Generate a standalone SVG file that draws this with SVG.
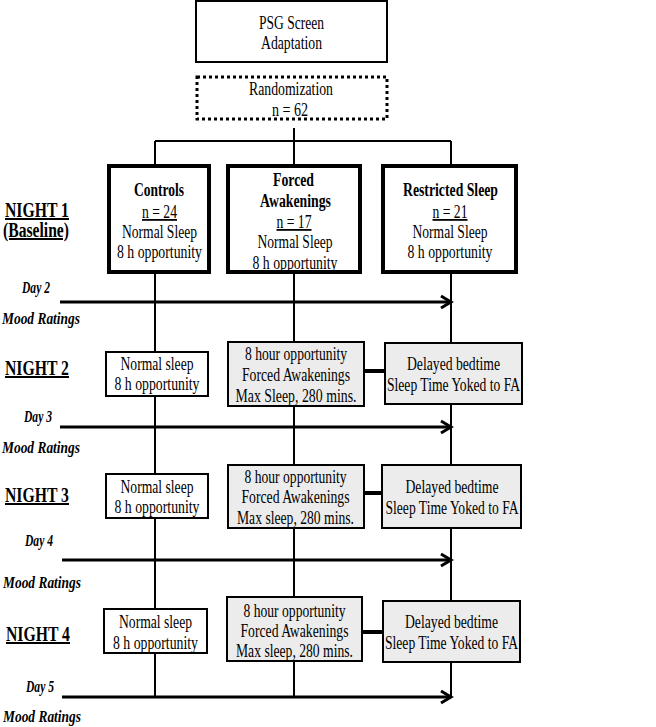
<svg xmlns="http://www.w3.org/2000/svg" width="656" height="727" viewBox="0 0 656 727">
<defs>
<style>
text{font-family:"Liberation Serif","Times New Roman",serif;fill:#000;text-anchor:middle}
.t{font-size:18px}
.b{font-size:18px;font-weight:bold}
.u{text-decoration:underline}
.lab{font-size:20px;font-weight:bold;text-decoration:underline}
.day{font-size:17px;font-weight:bold;font-style:italic}
.box{fill:#fff;stroke:#000;stroke-width:2}
.thick{fill:#fff;stroke:#000;stroke-width:4}
.grey{fill:#ececec;stroke:#000;stroke-width:2}
.ln{stroke:#000;stroke-width:2;fill:none}
.arr{stroke:#000;stroke-width:3;fill:none}
.bar{stroke:#000;stroke-width:4;fill:none}
</style>
<marker id="ah" markerUnits="userSpaceOnUse" markerWidth="16" markerHeight="16" refX="13" refY="8" orient="auto">
<path d="M3,2 L13,8 L3,14" fill="none" stroke="#000" stroke-width="3"/>
</marker>
</defs>
<rect width="656" height="727" fill="#fff"/>

<g id="connectors">
<path class="ln" d="M155,141 H451 M294,128 V141 M155,141 V697 M294,141 V697 M451,141 V697"/>
<path class="arr" marker-end="url(#ah)" d="M60,302 H451"/>
<path class="arr" marker-end="url(#ah)" d="M60,427 H451"/>
<path class="arr" marker-end="url(#ah)" d="M62,560 H451"/>
<path class="arr" marker-end="url(#ah)" d="M62,697 H451"/>
<path class="bar" d="M364,371 H385 M364,493 H381 M362,632 H383"/>
</g>

<g id="psg">
<rect class="box" x="196" y="1" width="191" height="61"/>
<text class="t" x="291.5" y="29" textLength="65" lengthAdjust="spacingAndGlyphs">PSG Screen</text>
<text class="t" x="291.5" y="49" textLength="61" lengthAdjust="spacingAndGlyphs">Adaptation</text>
</g>

<g id="randomization">
<rect x="197" y="77" width="190" height="42" fill="#fff" stroke="#000" stroke-width="3" stroke-dasharray="3 3"/>
<text class="t" x="291" y="95" textLength="84" lengthAdjust="spacingAndGlyphs">Randomization</text>
<text class="t" x="290" y="116" textLength="36" lengthAdjust="spacingAndGlyphs">n = 62</text>
</g>

<g id="n1-controls">
<rect class="thick" x="109" y="166" width="100" height="106"/>
<text class="b" x="159" y="196" textLength="50" lengthAdjust="spacingAndGlyphs">Controls</text>
<text class="t u" x="159.5" y="218" textLength="35" lengthAdjust="spacingAndGlyphs">n = 24</text>
<text class="t" x="159.5" y="238" textLength="75" lengthAdjust="spacingAndGlyphs">Normal Sleep</text>
<text class="t" x="159.5" y="258" textLength="85" lengthAdjust="spacingAndGlyphs">8 h opportunity</text>
</g>

<g id="n1-forced">
<rect class="thick" x="228" y="166" width="132" height="106"/>
<text class="b" x="293.5" y="186" textLength="41" lengthAdjust="spacingAndGlyphs">Forced</text>
<text class="b" x="295.5" y="207" textLength="71" lengthAdjust="spacingAndGlyphs">Awakenings</text>
<text class="t u" x="294" y="228" textLength="35" lengthAdjust="spacingAndGlyphs">n = 17</text>
<text class="t" x="295" y="248" textLength="75" lengthAdjust="spacingAndGlyphs">Normal Sleep</text>
<text class="t" x="295" y="269" textLength="85" lengthAdjust="spacingAndGlyphs">8 h opportunity</text>
</g>

<g id="n1-restricted">
<rect class="thick" x="383" y="166" width="133" height="106"/>
<text class="b" x="450.5" y="196" textLength="95" lengthAdjust="spacingAndGlyphs">Restricted Sleep</text>
<text class="t u" x="450" y="218" textLength="35" lengthAdjust="spacingAndGlyphs">n = 21</text>
<text class="t" x="450" y="238" textLength="75" lengthAdjust="spacingAndGlyphs">Normal Sleep</text>
<text class="t" x="450" y="258" textLength="85" lengthAdjust="spacingAndGlyphs">8 h opportunity</text>
</g>

<g id="labels">
<text class="lab" x="37" y="217" textLength="64" lengthAdjust="spacingAndGlyphs">NIGHT 1</text>
<text class="lab" x="36" y="237" textLength="66" lengthAdjust="spacingAndGlyphs">(Baseline)</text>
<text class="lab" x="37" y="375" textLength="64" lengthAdjust="spacingAndGlyphs">NIGHT 2</text>
<text class="lab" x="37" y="502" textLength="64" lengthAdjust="spacingAndGlyphs">NIGHT 3</text>
<text class="lab" x="38" y="641" textLength="64" lengthAdjust="spacingAndGlyphs">NIGHT 4</text>
<text class="day" x="36" y="293" textLength="28" lengthAdjust="spacingAndGlyphs">Day 2</text>
<text class="day" x="41" y="324" textLength="78" lengthAdjust="spacingAndGlyphs">Mood Ratings</text>
<text class="day" x="38" y="422" textLength="28" lengthAdjust="spacingAndGlyphs">Day 3</text>
<text class="day" x="41" y="453" textLength="78" lengthAdjust="spacingAndGlyphs">Mood Ratings</text>
<text class="day" x="39" y="546" textLength="28" lengthAdjust="spacingAndGlyphs">Day 4</text>
<text class="day" x="42" y="588" textLength="78" lengthAdjust="spacingAndGlyphs">Mood Ratings</text>
<text class="day" x="40" y="692" textLength="28" lengthAdjust="spacingAndGlyphs">Day 5</text>
<text class="day" x="42" y="722" textLength="78" lengthAdjust="spacingAndGlyphs">Mood Ratings</text>
</g>

<g id="n2-controls">
<rect class="box" x="106" y="352" width="102" height="44"/>
<text class="t" x="157" y="370" textLength="73" lengthAdjust="spacingAndGlyphs">Normal sleep</text>
<text class="t" x="157" y="390" textLength="85" lengthAdjust="spacingAndGlyphs">8 h opportunity</text>
</g>
<g id="n2-forced">
<rect class="grey" x="228" y="342" width="136" height="64"/>
<text class="t" x="296" y="360" textLength="102" lengthAdjust="spacingAndGlyphs">8 hour opportunity</text>
<text class="t" x="296" y="381" textLength="108" lengthAdjust="spacingAndGlyphs">Forced Awakenings</text>
<text class="t" x="296" y="402" textLength="121" lengthAdjust="spacingAndGlyphs">Max Sleep, 280 mins.</text>
</g>
<g id="n2-restricted">
<rect class="grey" x="385" y="343" width="137" height="61"/>
<text class="t" x="453.5" y="370" textLength="93" lengthAdjust="spacingAndGlyphs">Delayed bedtime</text>
<text class="t" x="453.5" y="391" textLength="133" lengthAdjust="spacingAndGlyphs">Sleep Time Yoked to FA</text>
</g>

<g id="n3-controls">
<rect class="box" x="106" y="474" width="102" height="44"/>
<text class="t" x="157" y="493" textLength="73" lengthAdjust="spacingAndGlyphs">Normal sleep</text>
<text class="t" x="157" y="513" textLength="85" lengthAdjust="spacingAndGlyphs">8 h opportunity</text>
</g>
<g id="n3-forced">
<rect class="grey" x="228" y="465" width="136" height="63"/>
<text class="t" x="295.5" y="483" textLength="102" lengthAdjust="spacingAndGlyphs">8 hour opportunity</text>
<text class="t" x="295.5" y="503" textLength="108" lengthAdjust="spacingAndGlyphs">Forced Awakenings</text>
<text class="t" x="295.5" y="524" textLength="117" lengthAdjust="spacingAndGlyphs">Max sleep, 280 mins.</text>
</g>
<g id="n3-restricted">
<rect class="grey" x="382" y="465" width="139" height="63"/>
<text class="t" x="452" y="493" textLength="93" lengthAdjust="spacingAndGlyphs">Delayed bedtime</text>
<text class="t" x="452" y="514" textLength="133" lengthAdjust="spacingAndGlyphs">Sleep Time Yoked to FA</text>
</g>

<g id="n4-controls">
<rect class="box" x="104" y="609" width="103" height="44"/>
<text class="t" x="155.5" y="628" textLength="73" lengthAdjust="spacingAndGlyphs">Normal sleep</text>
<text class="t" x="155.5" y="649" textLength="85" lengthAdjust="spacingAndGlyphs">8 h opportunity</text>
</g>
<g id="n4-forced">
<rect class="grey" x="227" y="597" width="135" height="64"/>
<text class="t" x="294.5" y="617" textLength="102" lengthAdjust="spacingAndGlyphs">8 hour opportunity</text>
<text class="t" x="294.5" y="637" textLength="108" lengthAdjust="spacingAndGlyphs">Forced Awakenings</text>
<text class="t" x="294.5" y="657" textLength="117" lengthAdjust="spacingAndGlyphs">Max sleep, 280 mins.</text>
</g>
<g id="n4-restricted">
<rect class="grey" x="383" y="601" width="137" height="61"/>
<text class="t" x="451.5" y="628" textLength="93" lengthAdjust="spacingAndGlyphs">Delayed bedtime</text>
<text class="t" x="451.5" y="649" textLength="133" lengthAdjust="spacingAndGlyphs">Sleep Time Yoked to FA</text>
</g>
</svg>
